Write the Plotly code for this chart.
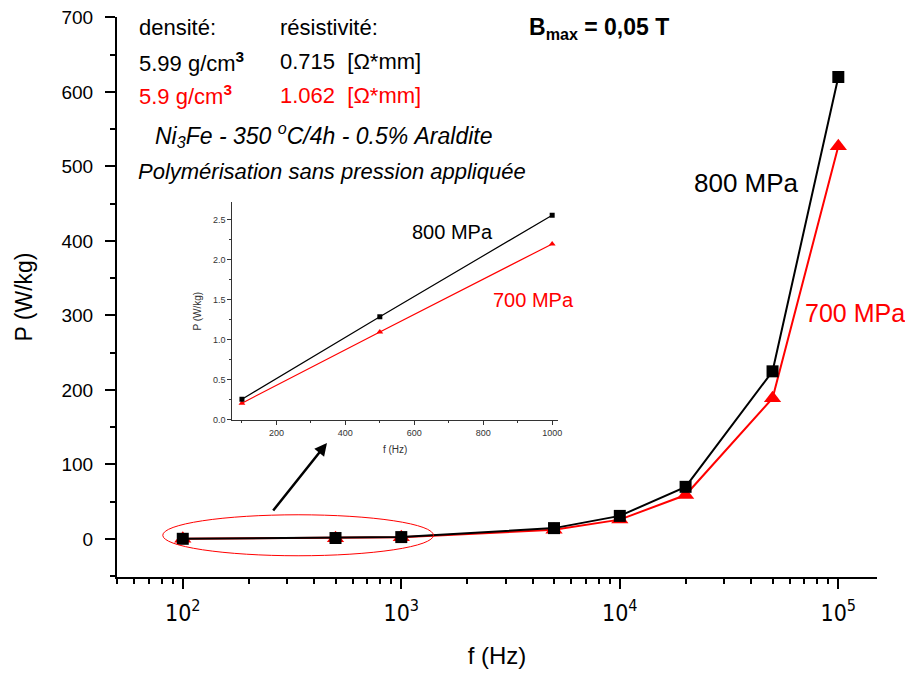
import plotly.graph_objects as go

# ---- data ----
freq = [100, 500, 1000, 5000, 10000, 20000, 50000, 100000]
p_800 = [0.26, 1.29, 2.56, 14.6, 31, 70, 225, 620]
p_700 = [0.21, 1.10, 2.20, 12.5, 26, 59, 189, 527]

inset_freq = freq[:3]
inset_800 = p_800[:3]
inset_700 = p_700[:3]

x_tickvals = [100, 1000, 10000, 100000]
x_ticktext = ["10<sup>2</sup>", "10<sup>3</sup>", "10<sup>4</sup>", "10<sup>5</sup>"]
x_minor = [m * 10 ** e for e in range(1, 6) for m in range(2, 10)]

FONT = "Liberation Sans, Arial, sans-serif"
NARROW = "DejaVu Sans Condensed, Liberation Sans Narrow, Liberation Sans, sans-serif"

fig = go.Figure()

# main traces
fig.add_trace(go.Scatter(x=freq, y=p_700, mode="lines+markers",
                         line=dict(color="#ff0000", width=2),
                         marker=dict(symbol="triangle-up", size=15, color="#ff0000"),
                         xaxis="x", yaxis="y", showlegend=False))
fig.add_trace(go.Scatter(x=freq, y=p_800, mode="lines+markers",
                         line=dict(color="black", width=2),
                         marker=dict(symbol="square", size=12, color="black"),
                         xaxis="x", yaxis="y", showlegend=False))

# inset traces
fig.add_trace(go.Scatter(x=inset_freq, y=inset_700, mode="lines+markers",
                         line=dict(color="#ff0000", width=1.2),
                         marker=dict(symbol="triangle-up", size=6, color="#ff0000"),
                         xaxis="x2", yaxis="y2", showlegend=False))
fig.add_trace(go.Scatter(x=inset_freq, y=inset_800, mode="lines+markers",
                         line=dict(color="black", width=1.2),
                         marker=dict(symbol="square", size=5, color="black"),
                         xaxis="x2", yaxis="y2", showlegend=False))

fig.update_layout(
    width=905, height=661,
    margin=dict(l=109, r=36, t=9, b=92),
    paper_bgcolor="white", plot_bgcolor="white",
    font=dict(family=FONT, color="black"),
    xaxis=dict(
        type="log", range=[1.699, 5.177], domain=[0, 1], automargin=False,
        showline=True, linecolor="black", linewidth=2, mirror=False,
        showgrid=False, zeroline=False,
        tickmode="array", tickvals=x_tickvals, ticktext=x_ticktext,
        ticks="outside", ticklen=10, tickwidth=2, tickcolor="black",
        tickfont=dict(family=NARROW, size=23), ticklabelstandoff=4,
        ticklabeloverflow="allow",
        minor=dict(tickvals=x_minor, ticks="outside", ticklen=5, tickwidth=1.5, tickcolor="black"),
        title=dict(text="f (Hz)", font=dict(family=FONT, size=24), standoff=32),
    ),
    yaxis=dict(
        range=[-51, 700.5], domain=[0, 1], automargin=False,
        showline=True, linecolor="black", linewidth=2, mirror=False,
        showgrid=False, zeroline=False,
        tickmode="array", tickvals=[0, 100, 200, 300, 400, 500, 600, 700],
        ticks="outside", ticklen=10, tickwidth=2, tickcolor="black",
        tickfont=dict(family=FONT, size=19), ticklabelstandoff=8,
        ticklabeloverflow="allow",
        minor=dict(tickvals=[-50, 50, 150, 250, 350, 450, 550, 650],
                   ticks="outside", ticklen=5, tickwidth=1.5, tickcolor="black"),
        title=dict(text="P (W/kg)", font=dict(family=FONT, size=23), standoff=22),
    ),
    xaxis2=dict(
        anchor="y2", domain=[0.1517, 0.5803], range=[72, 1017], automargin=False,
        showline=True, linecolor="#333333", linewidth=1, mirror=False,
        showgrid=False, zeroline=False,
        tickmode="linear", tick0=0, dtick=200,
        ticks="outside", ticklen=4, tickwidth=1, tickcolor="#333333",
        tickfont=dict(family=FONT, size=9, color="#333333"),
        minor=dict(dtick=100, ticks="outside", ticklen=2, tickwidth=1, tickcolor="#333333"),
        title=dict(text="f (Hz)", font=dict(family=FONT, size=10, color="#333333"), standoff=9),
    ),
    yaxis2=dict(
        anchor="x2", domain=[0.2804, 0.669], range=[0, 2.72], automargin=False,
        showline=True, linecolor="#333333", linewidth=1, mirror=False,
        showgrid=False, zeroline=False,
        tickmode="linear", tick0=0, dtick=0.5, tickformat=".1f",
        ticks="outside", ticklen=4, tickwidth=1, tickcolor="#333333",
        tickfont=dict(family=FONT, size=9, color="#333333"),
        minor=dict(dtick=0.25, ticks="outside", ticklen=2, tickwidth=1, tickcolor="#333333"),
        title=dict(text="P (W/kg)", font=dict(family=FONT, size=10, color="#333333"), standoff=9),
    ),
)

# ellipse around low-frequency points
fig.add_shape(type="circle", xref="x", yref="y", x0=81, x1=1403, y0=-22.5, y1=32.5,
              line=dict(color="#ff0000", width=1))

# arrow pointing to inset
fig.add_annotation(xref="paper", yref="paper", x=0.2763, y=0.2393, ax=-55, ay=69,
                   text="", showarrow=True, arrowhead=2, arrowsize=1, arrowwidth=2.5,
                   arrowcolor="black")

def txt(text, x, y, size=22, color="black", xanchor="left"):
    fig.add_annotation(xref="paper", yref="paper", x=x, y=y, text=text, showarrow=False,
                       xanchor=xanchor, yanchor="middle",
                       font=dict(family=FONT, size=size, color=color))

txt("densité:", 0.0263, 0.9804)
txt("résistivité:", 0.2118, 0.9804)
txt("5.99 g/cm<sup><b>3</b></sup>", 0.0263, 0.9202)
txt("0.715  [Ω*mm]", 0.2118, 0.9202)
txt("5.9 g/cm<sup><b>3</b></sup>", 0.0263, 0.8607, color="#ff0000")
txt("1.062  [Ω*mm]", 0.2118, 0.8607, color="#ff0000")
txt("<i>Ni<sub>3</sub>Fe&nbsp;-&nbsp;350&nbsp;<sup>o</sup>C/4h&nbsp;-&nbsp;0.5%&nbsp;Araldite</i>",
    0.0474, 0.7893, size=23)
txt("<i>Polymérisation sans pression appliquée</i>", 0.025, 0.7238, size=22)
txt("<b>B<sub>max</sub> = 0,05 T</b>", 0.5395, 0.9786, size=23)

txt("800 MPa", 0.8289, 0.7036, size=26, xanchor="center")
txt("700 MPa", 0.9705, 0.4714, size=25, color="#ff0000", xanchor="center")
txt("800 MPa", 0.4408, 0.616, size=20, xanchor="center")
txt("700 MPa", 0.5474, 0.4946, size=20, color="#ff0000", xanchor="center")

fig.write_html("out.html")
